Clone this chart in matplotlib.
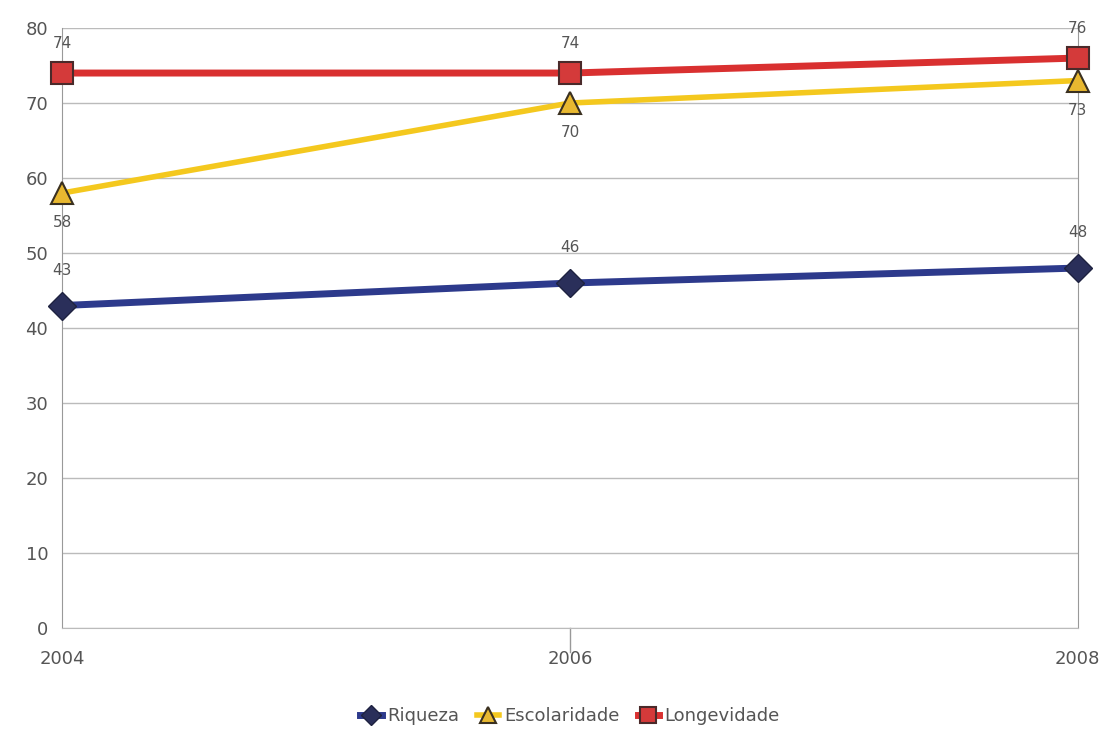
import matplotlib.pyplot as plt
from matplotlib.ticker import MultipleLocator

anos = [2004, 2006, 2008]
riqueza = [43, 46, 48]
escolaridade = [58, 70, 73]
longevidade = [74, 74, 76]

cor_texto = "#555555"


def main():
    fig = plt.figure(figsize=(11.1, 7.38), dpi=100)
    ax = fig.add_axes([0.056, 0.149, 0.915, 0.813])

    ax.plot(anos, riqueza, color="#2d3a8c", linewidth=5, marker="D", markersize=14,
            markerfacecolor="#2a2f5a", markeredgecolor="#1e2240", label="Riqueza",
            zorder=3, clip_on=False)
    ax.plot(anos, escolaridade, color="#f4c81e", linewidth=4, marker="^", markersize=16,
            markerfacecolor="#e8b830", markeredgecolor="#3a3020", markeredgewidth=1.5,
            label="Escolaridade", zorder=4, clip_on=False)
    ax.plot(anos, longevidade, color="#d93030", linewidth=5, marker="s", markersize=16,
            markerfacecolor="#d43a3a", markeredgecolor="#4a2a2a", markeredgewidth=1.5,
            label="Longevidade", zorder=5, clip_on=False)

    for x, y in zip(anos, riqueza):
        ax.annotate(str(y), (x, y), xytext=(0, 20), textcoords="offset points",
                    ha="center", va="bottom", fontsize=11, color=cor_texto)
    for x, y in zip(anos, escolaridade):
        ax.annotate(str(y), (x, y), xytext=(0, -16), textcoords="offset points",
                    ha="center", va="top", fontsize=11, color=cor_texto)
    for x, y in zip(anos, longevidade):
        ax.annotate(str(y), (x, y), xytext=(0, 16), textcoords="offset points",
                    ha="center", va="bottom", fontsize=11, color=cor_texto)

    ax.set_xlim(2004, 2008)
    ax.set_ylim(0, 80)
    ax.set_xticks(anos)
    ax.yaxis.set_major_locator(MultipleLocator(10))
    ax.grid(axis="y", color="#bbbbbb", linewidth=1)
    ax.set_axisbelow(True)
    ax.spines["top"].set_visible(False)
    ax.spines["bottom"].set_color("#bbbbbb")
    ax.spines["left"].set_color("#999999")
    ax.spines["right"].set_color("#999999")
    ax.axvline(2006, ymin=-0.04, ymax=0, color="#999999", linewidth=1, clip_on=False)
    ax.tick_params(axis="both", length=0, labelsize=13, labelcolor=cor_texto)
    ax.tick_params(axis="x", pad=16)
    ax.tick_params(axis="y", pad=10)

    ax.legend(loc="upper center", bbox_to_anchor=(0.5, -0.105), ncol=3, frameon=False,
              fontsize=13, labelcolor=cor_texto, handlelength=1.2, handletextpad=0.3,
              columnspacing=1.0, markerscale=0.7)

    fig.savefig("out.png", dpi=100)


if __name__ == "__main__":
    main()
